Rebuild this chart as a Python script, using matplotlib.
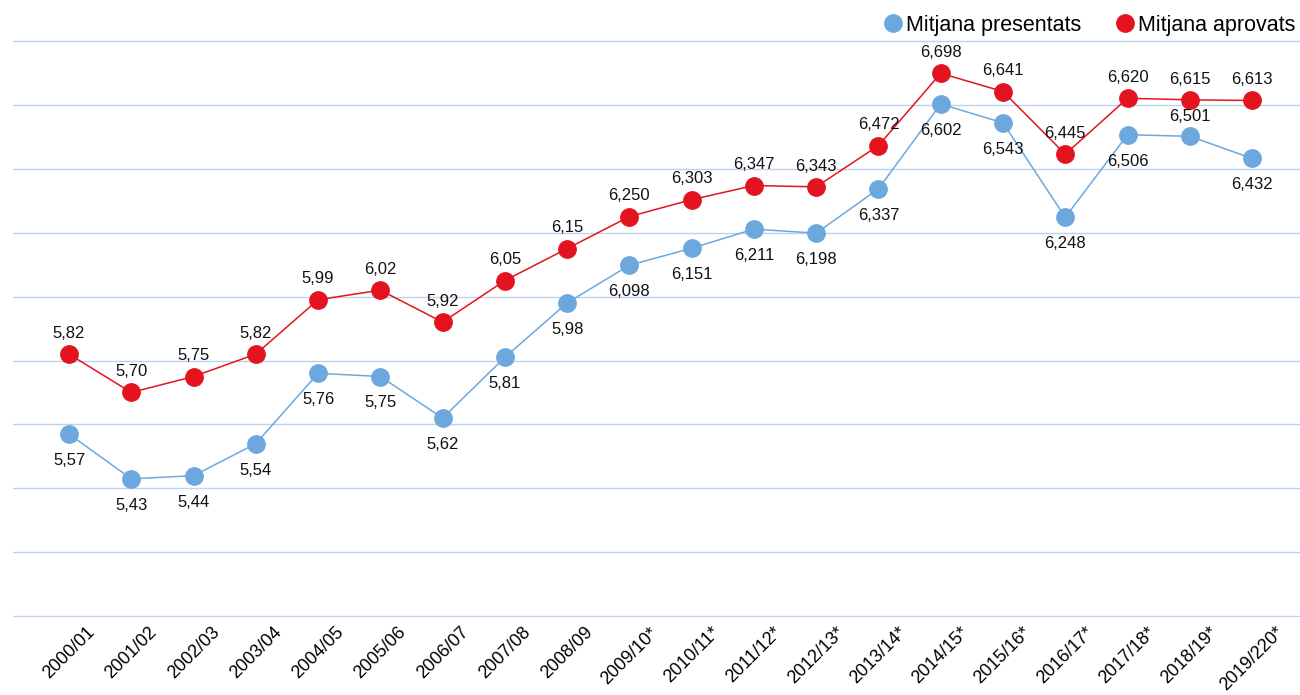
import matplotlib
matplotlib.use("Agg")
import matplotlib.pyplot as plt
from matplotlib.lines import Line2D

plt.rcParams['font.family'] = ['Liberation Sans', 'DejaVu Sans']

# -----------------------------
# DATA
# -----------------------------
cursos = ["2000/01", "2001/02", "2002/03", "2003/04", "2004/05", "2005/06",
          "2006/07", "2007/08", "2008/09", "2009/10*", "2010/11*", "2011/12*",
          "2012/13*", "2013/14*", "2014/15*", "2015/16*", "2016/17*", "2017/18*",
          "2018/19*", "2019/220*"]

presentats = ["5,57", "5,43", "5,44", "5,54", "5,76", "5,75", "5,62", "5,81",
              "5,98", "6,098", "6,151", "6,211", "6,198", "6,337", "6,602",
              "6,543", "6,248", "6,506", "6,501", "6,432"]

aprovats = ["5,82", "5,70", "5,75", "5,82", "5,99", "6,02", "5,92", "6,05",
            "6,15", "6,250", "6,303", "6,347", "6,343", "6,472", "6,698",
            "6,641", "6,445", "6,620", "6,615", "6,613"]

# labels for presentats drawn above the point instead of below
pres_above = ["2018/19*"]

blue = "#6CA8DE"
red = "#E3141F"
grid_col = "#BBD3EF"

pres_vals = [float(s.replace(",", ".")) for s in presentats]
apro_vals = [float(s.replace(",", ".")) for s in aprovats]
x = list(range(len(cursos)))

# -----------------------------
# PLOT
# -----------------------------
fig = plt.figure(figsize=(13, 6.95), dpi=100)
ax = fig.add_axes([0.01, 0.1122, 0.99, 0.8302])

ax.plot(x, pres_vals, color=blue, lw=1.1, marker="o", ms=12.5, zorder=3)
ax.plot(x, apro_vals, color=red, lw=1.1, marker="o", ms=12.5, zorder=3)

for i, s in enumerate(presentats):
    dy = 14 if cursos[i] in pres_above else -19
    ax.annotate(s, (x[i], pres_vals[i]), xytext=(0, dy), textcoords="offset points",
                ha="center", va="center", fontsize=12, color="#111111")

for i, s in enumerate(aprovats):
    ax.annotate(s, (x[i], apro_vals[i]), xytext=(0, 15), textcoords="offset points",
                ha="center", va="center", fontsize=12, color="#111111")

ax.set_xlim(-0.9, 19.77)
ax.set_ylim(4.998, 6.802)
ax.set_yticks([5.0 + 0.2 * k for k in range(10)])
ax.yaxis.grid(True, color=grid_col, lw=1)
ax.set_axisbelow(True)
ax.tick_params(axis="y", length=0, labelleft=False)

ax.set_xticks(x)
ax.set_xticklabels(cursos, rotation=45, ha="center", fontsize=13)
ax.tick_params(axis="x", length=0, pad=5)

for sp in ax.spines.values():
    sp.set_visible(False)

handles = [Line2D([], [], ls="none", marker="o", ms=12.5, color=blue),
           Line2D([], [], ls="none", marker="o", ms=12.5, color=red)]
ax.legend(handles, ["Mitjana presentats", "Mitjana aprovats"], ncol=2,
          loc="lower right", bbox_to_anchor=(1.0, 1.0), frameon=False,
          fontsize=15.5, handletextpad=0.05, columnspacing=1.5,
          borderaxespad=0.0, handlelength=1.1, borderpad=0.2)

plt.savefig("out.png", dpi=100)
